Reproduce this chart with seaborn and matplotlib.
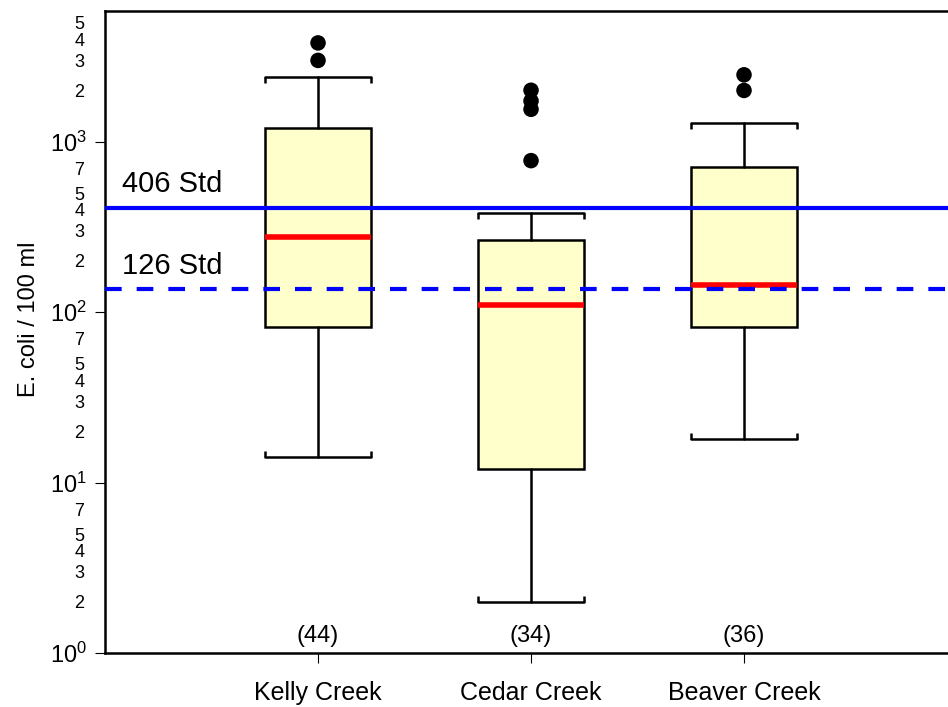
import numpy as np
import pandas as pd
import matplotlib
matplotlib.use("Agg")
import matplotlib.pyplot as plt
import matplotlib.ticker as mticker
import seaborn as sns

# values (E. coli / 100 ml)
creeks = ["Kelly Creek", "Cedar Creek", "Beaver Creek"]
counts = [44, 34, 36]
whislo = [14.1, 2.0, 18.0]
q1 = [82, 12.0, 82]
med = [276, 110, 145]
q3 = [1200, 266, 714]
whishi = [2410, 384, 1294]
outliers = [[3000, 3800], [775, 1550, 1735, 2005], [2000, 2470]]

std_labels = ["406 Std", "126 Std"]
std_values = [407, 136]
std_styles = ["-", "--"]

sns.set_style("ticks")
plt.rcParams["font.family"] = ["Liberation Sans", "DejaVu Sans"]
plt.rcParams["mathtext.default"] = "regular"
for k in ["text.color", "axes.labelcolor", "xtick.color", "ytick.color", "axes.edgecolor"]:
    plt.rcParams[k] = "black"

fig = plt.figure(figsize=(9.48, 7.07), dpi=100)
ax = fig.add_axes([0.1108, 0.076, 0.8987, 0.9085])

stats = []
for i, name in enumerate(creeks):
    stats.append(dict(label=name, whislo=whislo[i], q1=q1[i], med=med[i],
                      q3=q3[i], whishi=whishi[i], fliers=[]))

box_w = 0.5
ax.bxp(stats, positions=range(len(creeks)), widths=box_w, capwidths=box_w,
       patch_artist=True, showfliers=False,
       boxprops=dict(facecolor="#FFFFCC", edgecolor="black", linewidth=1.8),
       medianprops=dict(color="red", linewidth=4, solid_capstyle="butt"),
       whiskerprops=dict(color="black", linewidth=1.8),
       capprops=dict(color="black", linewidth=1.8))

# small serifs at the ends of the whisker caps
for i in range(len(creeks)):
    ends = [i - box_w / 2, i + box_w / 2]
    ax.vlines(ends, whishi[i] / 1.085, whishi[i], color="black", linewidth=1.8)
    ax.vlines(ends, whislo[i], whislo[i] * 1.085, color="black", linewidth=1.8)

out_df = pd.DataFrame([(i, v) for i, vals in enumerate(outliers) for v in vals],
                      columns=["pos", "value"])
sns.scatterplot(data=out_df, x="pos", y="value", ax=ax, color="black",
                s=125, edgecolor="none", zorder=5)

# standards
for lab, val, ls in zip(std_labels, std_values, std_styles):
    if ls == "--":
        ax.axhline(val, color="blue", linewidth=3, linestyle="--", dashes=(4, 3.6), zorder=4)
    else:
        ax.axhline(val, color="blue", linewidth=3, zorder=4)
ax.text(-0.92, 566, std_labels[0], fontsize=21, va="center", ha="left")
ax.text(-0.92, 187, std_labels[1], fontsize=21, va="center", ha="left")

for i, n in enumerate(counts):
    ax.text(i, 1.27, f"({n})", fontsize=17, ha="center", va="center")

ax.set_yscale("log")
ax.set_ylim(1, 5850)
ax.set_xlim(-1, 3)
ax.set_xticks(range(len(creeks)))
ax.set_xticklabels(creeks, fontsize=18)
ax.tick_params(axis="x", length=7, width=0.8, pad=13)

ax.yaxis.set_major_locator(mticker.LogLocator(base=10, numticks=10))
ax.yaxis.set_major_formatter(mticker.LogFormatterMathtext())
ax.yaxis.set_minor_locator(mticker.LogLocator(base=10, subs=[2, 3, 4, 5, 7], numticks=20))
ax.yaxis.set_minor_formatter(mticker.FuncFormatter(
    lambda v, p: str(int(round(v / 10 ** np.floor(np.log10(v) + 1e-9))))))
ax.tick_params(axis="y", which="major", length=7, width=0.8, labelsize=17, pad=6)
ax.tick_params(axis="y", which="minor", length=0, labelsize=13, pad=15)
ax.set_ylabel("E. coli / 100 ml", fontsize=17)
ax.yaxis.set_label_coords(-0.076, 0.52)
ax.set_xlabel("")

for s in ["left", "bottom", "top"]:
    ax.spines[s].set_linewidth(1.8)
ax.spines["right"].set_visible(False)

fig.savefig("out.png", dpi=100)
